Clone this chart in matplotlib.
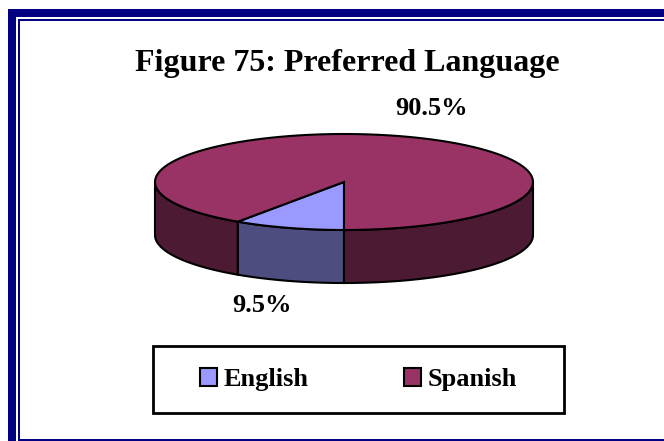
import numpy as np
import matplotlib
matplotlib.use("Agg")
from matplotlib import pyplot as plt
from matplotlib.patches import Polygon, Rectangle, Patch

languages = ['English', 'Spanish']
shares = [9.5, 90.5]
colors = ['#9999FF', '#993366']
title = 'Figure 75: Preferred Language'

plt.rcParams['font.family'] = ['Liberation Serif', 'DejaVu Serif']
plt.rcParams['font.weight'] = 'bold'

# pie geometry in pixels
cx, cy = 344, 182
rx, ry = 189, 48
depth = 53
navy = '#000080'


def ellipse_pts(t0, t1, dy=0, n=120):
    t = np.radians(np.linspace(t0, t1, n))
    return np.column_stack([cx + rx * np.cos(t), cy - ry * np.sin(t) + dy])


def shade(c, k=0.5):
    r, g, b = matplotlib.colors.to_rgb(c)
    return (r * k, g * k, b * k)


fig = plt.figure(figsize=(6.64, 4.41), dpi=100)
ax = fig.add_axes([0, 0, 1, 1])
ax.set_xlim(0, 664)
ax.set_ylim(441, 0)
ax.axis('off')

# double navy frame
for x, y, w, h in [(8, 9, 700, 8), (8, 9, 8, 500),
                   (18, 19, 700, 2), (18, 19, 2, 500), (18, 439, 700, 2)]:
    ax.add_patch(Rectangle((x, y), w, h, facecolor=navy, edgecolor='none'))

# slices run clockwise starting at the front of the pie
spans = []
end = 270
for s in shares:
    start = end - s * 3.6
    spans.append((start, end))
    end = start

# side walls: only the front half is visible
for (t0, t1), c in zip(spans, colors):
    for k in (-360, 0, 360):
        lo, hi = max(t0, 180 + k), min(t1, 360 + k)
        if hi > lo:
            pts = np.vstack([ellipse_pts(lo, hi), ellipse_pts(hi, lo, dy=depth)])
            ax.add_patch(Polygon(pts, closed=True, facecolor=shade(c),
                                 edgecolor='black', linewidth=1.5, zorder=2))

# top faces
for (t0, t1), c in zip(spans, colors):
    pts = np.vstack([[cx, cy], ellipse_pts(t0, t1)])
    ax.add_patch(Polygon(pts, closed=True, facecolor=c, edgecolor='black',
                         linewidth=1.5, joinstyle='miter', zorder=3))

ax.text(347, 71, title, fontsize=23, ha='center', va='baseline')
ax.text(432, 115, f'{shares[1]}%', fontsize=19, ha='center', va='baseline')
ax.text(262, 312, f'{shares[0]}%', fontsize=19, ha='center', va='baseline')

# legend box
ax.add_patch(Rectangle((153, 346), 411, 67, facecolor='white',
                       edgecolor='black', linewidth=2, zorder=4))
handles = [Patch(facecolor=c, edgecolor='black', linewidth=1.5) for c in colors]
ax.legend(handles, languages, loc='center', bbox_to_anchor=(358.5, 379.5),
          bbox_transform=ax.transData, ncol=2, frameon=False, fontsize=19,
          handlelength=0.65, handleheight=0.65, handletextpad=0.27,
          columnspacing=3.6, borderpad=0, borderaxespad=0)

fig.savefig('out.png', dpi=100)
